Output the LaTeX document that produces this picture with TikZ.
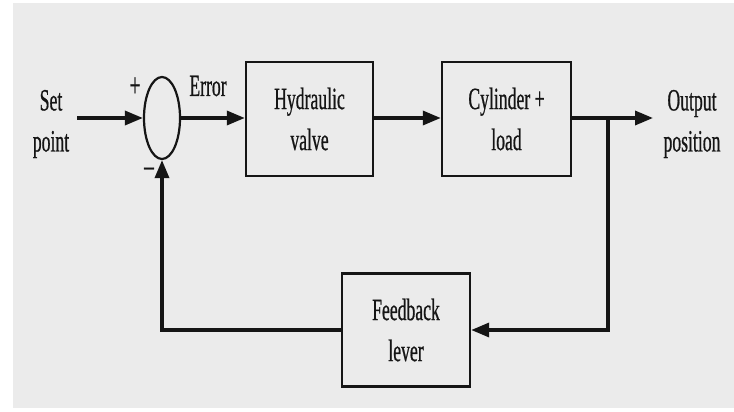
\documentclass[tikz,border=0pt]{standalone}
\usepackage{fontspec}
\setmainfont{Liberation Serif}[FakeStretch=0.57, FakeBold=0.6]
\usetikzlibrary{arrows.meta,shapes.geometric}
\definecolor{paper}{HTML}{EBEBEB}
\definecolor{ink}{HTML}{151515}
\begin{document}
\begin{tikzpicture}[x=1pt,y=-1pt,
  txt/.style={font=\fontsize{31}{41}\selectfont, align=center, text=ink, inner sep=0pt},
  sign/.style={txt, font=\fontsize{34}{36}\selectfont},
  block/.style={txt, draw=ink, line width=2.4pt, rectangle, inner sep=0pt},
  flow/.style={draw=ink, line width=3.4pt, -{Triangle[length=18pt,width=14pt]}},
  ]
\useasboundingbox (0,0) rectangle (734,412);
\fill[white] (0,0) rectangle (734,412);
\fill[paper] (13,3) rectangle (734,408);

% summing junction and blocks
\node[draw=ink, line width=2.2pt, ellipse, minimum width=36pt, minimum height=82pt, inner sep=0pt] (sum) at (162,118) {};
\node[block, minimum width=127pt, minimum height=114pt] (valve) at (309.5,119) {Hydraulic\\valve};
\node[block, minimum width=129pt, minimum height=114pt] (cyl) at (506.5,119) {Cylinder +\\load};
\node[block, minimum width=128pt, minimum height=113pt] (fb) at (406,330) {Feedback\\lever};

% text labels
\node[txt] (setpt) at (51,124) {Set\\point};
\node[txt] (outpos) at (692,124) {Output\\position};
\node[txt] (err) at (208,86) {Error};
\node[sign] (plus) at (135,87) {+};
\node[sign] (minus) at (149,172) {–};

% signal path
\coordinate (in) at (77,118);
\coordinate (outend) at (653,118);
\coordinate (branch) at (608,118);
\draw[flow] (in) -- (sum.west);
\draw[flow] (sum.east) -- (sum.east -| valve.west);
\draw[flow] (valve.east |- sum.east) -- (sum.east -| cyl.west);
\draw[flow] (cyl.east |- sum.east) -- (outend);

% feedback loop
\draw[flow] (branch) |- (fb.east);
\draw[flow] (fb.west) -| (sum.south);
\end{tikzpicture}
\end{document}
